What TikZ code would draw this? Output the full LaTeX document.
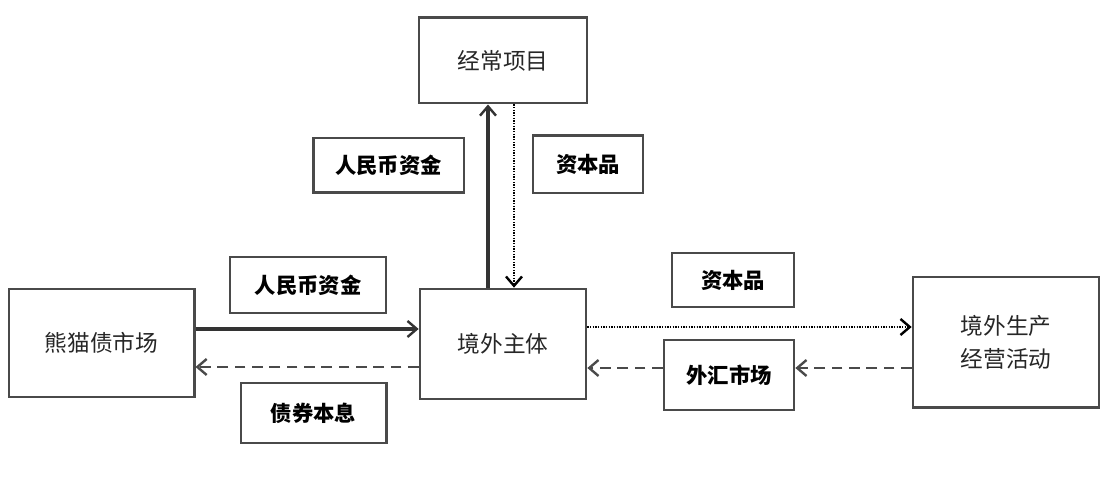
\documentclass[tikz,border=0pt]{standalone}
\usepackage{fontspec}
\setmainfont{Noto Sans CJK SC}
\usetikzlibrary{arrows.meta}
\definecolor{boxgray}{HTML}{4A4A4A}
\definecolor{linegray}{HTML}{333333}
\tikzset{
  mainbox/.style={draw=boxgray, line width=2pt, rectangle, inner sep=0pt,
    align=center, text=black!85, font=\fontsize{17}{25}\selectfont},
  tagbox/.style={draw=boxgray, line width=2pt, rectangle, inner sep=0pt,
    font=\fontsize{16}{20}\selectfont\bfseries},
  tip/.style={-{Straight Barb[length=7pt,width=12pt,line width=1.8pt]}},
  flow/.style={tip, draw=linegray, line width=2.3pt},
  dashflow/.style={tip, draw=boxgray, line width=2pt, dash pattern=on 8pt off 5pt},
  dotflow/.style={tip, draw=black, line width=1.8pt, dash pattern=on 1pt off 1pt}
}
\begin{document}
\begin{tikzpicture}[x=0.75pt, y=-0.75pt]
            \useasboundingbox (0,0) rectangle (1108,484);

            % Boxes
            \node [mainbox, minimum width=126pt, minimum height=64pt] (jcxm) at (503,60.5) {经常项目};
            \node [mainbox, minimum width=124.5pt, minimum height=82.5pt] (jwzt) at (503,344) {境外主体};
            \node [mainbox, minimum width=139pt, minimum height=81pt] (xmz) at (101.5,343) {熊猫债市场};
            \node [mainbox, minimum width=139.5pt, minimum height=98pt] (jwsc) at (1006,342.5) {境外生产\\经营活动};

            % Labels
            \node [tagbox, minimum width=113pt, minimum height=41pt] (rmbup) at (388.5,165.5) {人民币资金};
            \node [tagbox, minimum width=82.5pt, minimum height=43pt] (zbpup) at (588,164.5) {资本品};
            \node [tagbox, minimum width=117pt, minimum height=42pt] (rmbleft) at (308,285) {人民币资金};
            \node [tagbox, minimum width=109pt, minimum height=45pt] (zqbx) at (313.5,413) {债券本息};
            \node [tagbox, minimum width=91.5pt, minimum height=40.5pt] (zbpright) at (733,280) {资本品};
            \node [tagbox, minimum width=97.5pt, minimum height=52.5pt] (whsc) at (729,375) {外汇市场};

            % Rows and columns
            \coordinate (upcol) at (488,0);
            \coordinate (downcol) at (514,0);
            \coordinate (inrow) at (0,329);
            \coordinate (outrow) at (0,367);
            \coordinate (dotrow) at (0,327);
            \coordinate (fxrow) at (0,368);

            % Arrows
            \draw [flow] (jwzt.north -| upcol) -- (jcxm.south -| upcol);
            \draw [dotflow] (jcxm.south -| downcol) -- (jwzt.north -| downcol);
            \draw [flow] (xmz.east |- inrow) -- (jwzt.west |- inrow);
            \draw [dashflow] (jwzt.west |- outrow) -- (xmz.east |- outrow);
            \draw [dotflow] (jwzt.east |- dotrow) -- (jwsc.west |- dotrow);
            \draw [dashflow] (jwsc.west |- fxrow) -- (whsc.east |- fxrow);
            \draw [dashflow] (whsc.west |- fxrow) -- (jwzt.east |- fxrow);
        \end{tikzpicture}
\end{document}
